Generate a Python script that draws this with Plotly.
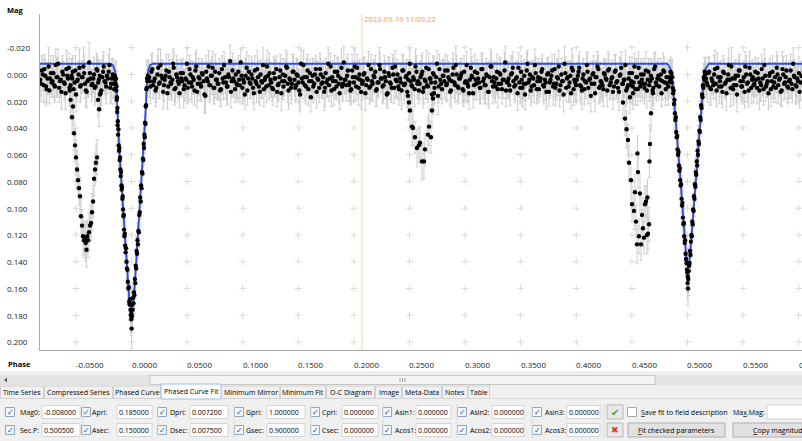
import plotly.graph_objects as go

# ---------------------------------------------------------------- data
PHASE_UNIT = 1e-4   # phases below are stored in units of 0.0001
MAG_UNIT = 1e-3     # magnitudes and errors in millimag

# out-of-eclipse measurements, first run
base_phase = [
    -821, -807, -790, -776, -763, -746, -733, -718, -702, -689, -674, -660, -643, -630, -614, -601, -586, -571, -557, -540,
    -528, -512, -499, -484, -468, -455, -440, -425, -411, -396, -381, -367, -352, -337, -323, -307, -294, -279, -263, -250,
    -235, -221, -205, -191, -177, -163,
    158, 171, 187, 202, 216, 233, 247, 261, 278, 292, 307, 323, 336, 351, 367, 380, 396, 411, 425, 441,
    455, 470, 486, 499, 515, 530, 544, 560, 575, 589, 604, 619, 633, 649, 664, 678, 694, 708, 723, 738,
    752, 768, 782, 797, 813, 826, 842, 857, 871, 887, 901, 916, 931, 945, 961, 975, 990, 1005, 1019, 1035,
    1049, 1064, 1080, 1093, 1109, 1124, 1138, 1154, 1168, 1183, 1198, 1212, 1228, 1242, 1257, 1273, 1286, 1302, 1316, 1331,
    1347, 1360, 1376, 1391, 1405, 1421, 1435, 1450, 1466, 1479, 1495, 1509, 1524, 1540, 1553, 1569, 1584, 1598, 1613, 1628,
    1643, 1658, 1672, 1688, 1702, 1717, 1733, 1746, 1762, 1777, 1791, 1806, 1821, 1836, 1851, 1865, 1881, 1895, 1910, 1925,
    1939, 1955, 1969, 1984, 2000, 2013, 2029, 2043, 2058, 2074, 2087, 2103, 2118, 2132, 2147, 2162, 2177, 2192, 2206, 2222,
    2236, 2251, 2267, 2280, 2296, 2311, 2325, 2340, 2355, 2370, 2385, 2399, 2415, 2429, 2444, 2460, 2473, 2489, 2503, 2518,
    2534, 2547, 2563, 2577, 2592, 2608, 2621, 2637, 2651, 2666, 2682, 2695, 2711, 2725, 2740, 2756, 2769, 2785, 2799, 2814,
    2830, 2843, 2859, 2873, 2888, 2904, 2917, 2933, 2947, 2962, 2978, 2991, 3007, 3021, 3036, 3052, 3065, 3081, 3095, 3110,
    3126, 3139, 3155, 3169, 3184, 3200, 3213, 3229, 3243, 3258, 3274, 3287, 3303, 3317, 3332, 3348, 3361, 3377, 3391, 3406,
    3422, 3435, 3451, 3465, 3480, 3496, 3509, 3525, 3539, 3554, 3570, 3583, 3599, 3613, 3628, 3644, 3657, 3673, 3687, 3702,
    3718, 3731, 3747, 3761, 3776, 3792, 3805, 3821, 3835, 3850, 3866, 3879, 3895, 3909, 3924, 3940, 3953, 3969, 3983, 3998,
    4014, 4027, 4043, 4057, 4072, 4088, 4101, 4117, 4131, 4146, 4162, 4175, 4191, 4205, 4220, 4236, 4249, 4265, 4279, 4294,
    4310, 4323, 4339, 4353, 4368, 4384, 4397, 4413, 4427, 4442, 4458, 4471, 4487, 4501, 4516, 4532, 4545, 4561, 4575, 4590,
    4606, 4619, 4635, 4649, 4664, 4680, 4693, 4709, 4723, 4738, 4754, 4767, 4783, 4797, 4812, 4828, 4841,
    5166, 5181, 5195, 5211, 5224, 5240, 5255, 5269, 5285, 5298, 5314, 5329, 5343, 5359, 5372, 5388, 5403, 5417, 5433, 5446,
    5462, 5477, 5491, 5507, 5520, 5536, 5551, 5565, 5581, 5594, 5610, 5625, 5639, 5655, 5668, 5684, 5699, 5713, 5729, 5742,
    5758, 5773, 5787, 5803, 5816, 5832, 5847, 5861, 5877, 5890, 5906, 5921, 5935, 5951, 5964, 5980, 5995, 6009, 6025,
]
base_mag = [
    4, -3, 8, 1, 11, -6, 3, 6, -1, 9, 2, -8, 5, 13, 0, 7, -4, 3, 10, 1,
    -2, 6, 15, 4, -5, 8, 2, -1, 12, 5, -9, 3, 7, 0, 9, -3, 4, 14, 2, -6,
    6, 1, -2, 10, 3, 7,
    2, 9, -4, 5, 12, 0, 7, -7, 3, 8, 1, 14, -2, 6, 4, -5, 10, 2, 7, -1,
    5, 11, 3, -8, 6, 0, 9, 4, -3, 13, 2, 7, -1, 5, 16, 3, -6, 8, 1, 10,
    -2, 4, 7, 12, -4, 6, 2, 9, 0, -10, 5, 3, 11, 7, -2, 8, 1, 4, 15, -5,
    3, 6, 0, 10, -3, 7, 2, 13, 5, -7, 4, 9, 1, -1, 6, 11, 3, -4, 8, 2,
    14, 0, 5, -6, 7, 3, 10, -2, 4, 8, 1, 12, -8, 6, 2, 9, -3, 5, 17, 1,
    7, -4, 3, 10, 0, 6, 13, -1, 4, 8, -6, 2, 11, 5, -2, 7, 3, 9, -9, 4,
    1, 8, 12, -3, 6, 2, -5, 10, 4, 7, 0, 14, 3, -7, 9, 5, 1, -2, 11, 6,
    -4, 3, 8, 2, 15, -1, 6, 10, 0, -6, 5, 9, 3, 12, -3, 7, 1, 4, -8, 8,
    2, 11, -2, 5, 7, 0, 13, 4, -5, 9, 3, 6, -1, 10, 2, 16, -4, 7, 1, 5,
    8, -3, 4, 12, 0, 6, -7, 9, 3, 1, 11, -2, 5, 7, 14, -5, 2, 8, 4, -1,
    6, 10, -4, 3, 8, 1, 13, -6, 5, 2, 9, -2, 7, 0, 11, 4, -9, 6, 3, 12,
    -1, 5, 8, 2, -5, 10, 4, 7, 15, -3, 6, 0, 9, 3, -7, 11, 2, 5, -2, 8,
    4, 13, -1, 6, 1, 9, -4, 7, 3, 12, 0, 5, -8, 10, 2, 6, 14, -3, 4, 8,
    1, -5, 9, 3, 11, 6, -2, 4, 16, 0, 7, 2, -6, 10, 5, 8, -1, 3, 12, -4,
    6, 2, 9, -3, 5, 13, 0, 7, 4, -7, 10, 3, 8, -1, 6, 11, 2, -5, 9, 4,
    0, 7, 12, -2, 5, 3, 10, -6, 8, 1, 4, 14, -3, 6, 2, 9, 5,
    3, 8, -2, 11, 5, 0, 7, -5, 9, 2, 13, -1, 6, 4, -7, 10, 3, 8, 1, 15,
    -3, 5, 9, 2, -6, 7, 12, 0, 4, 8, -2, 10, 3, 6, -4, 11, 1, 7, 14, -1,
    5, 9, 2, -5, 8, 3, 12, 0, 6, -3, 10, 4, 7, -8, 2, 9, 5, 13, 1,
]
base_err = [
    12, 11, 13, 12, 10, 14, 12, 11, 13, 12, 15, 11, 12, 13, 10, 12, 14, 11, 12, 13,
    12, 10, 13, 12, 14, 11, 12, 13, 12, 11, 15, 12, 10, 13, 12, 11, 14, 12, 13, 11,
    12, 10, 13, 12, 14, 11,
    11, 13, 12, 10, 12, 14, 11, 12, 13, 12, 10, 12, 13, 11, 15, 12, 11, 13, 12, 10,
    12, 14, 11, 12, 13, 10, 12, 11, 13, 12, 14, 12, 11, 10, 13, 12, 12, 11, 14, 12,
    13, 11, 12, 12, 10, 13, 12, 14, 11, 12, 12, 13, 10, 11, 12, 14, 12, 13, 11, 12,
    10, 12, 13, 12, 11, 14, 12, 10, 12, 13, 11, 12, 12, 15, 11, 12, 13, 10, 12, 11,
    13, 12, 11, 12, 14, 10, 12, 13, 12, 11, 12, 14, 11, 12, 10, 13, 12, 12, 11, 13,
    12, 10, 13, 11, 12, 12, 14, 11, 13, 12, 10, 12, 12, 13, 11, 14, 12, 11, 12, 10,
    13, 12, 11, 12, 14, 12, 10, 13, 11, 12, 12, 13, 12, 10, 11, 14, 12, 12, 13, 11,
    12, 11, 14, 12, 10, 12, 13, 11, 12, 12, 13, 10, 12, 14, 11, 12, 12, 13, 11, 12,
    10, 13, 12, 11, 12, 14, 12, 10, 13, 12, 11, 12, 13, 12, 10, 14, 11, 12, 12, 13,
    12, 11, 10, 13, 12, 12, 14, 11, 12, 13, 10, 12, 11, 13, 12, 14, 12, 11, 12, 10,
    13, 12, 12, 11, 14, 10, 12, 13, 11, 12, 12, 13, 10, 12, 11, 14, 12, 12, 13, 11,
    12, 10, 13, 12, 11, 12, 14, 12, 11, 13, 12, 10, 12, 13, 12, 11, 14, 12, 10, 12,
    11, 13, 12, 12, 10, 14, 11, 12, 13, 12, 12, 11, 13, 10, 12, 14, 12, 11, 12, 13,
    10, 12, 13, 11, 12, 12, 14, 11, 12, 10, 13, 12, 11, 12, 14, 12, 10, 13, 12, 11,
    12, 13, 10, 12, 11, 14, 12, 12, 13, 11, 12, 10, 13, 12, 11, 12, 14, 12, 11, 13,
    12, 11, 13, 10, 12, 14, 12, 11, 12, 13, 12, 10, 13, 12, 11, 14, 12,
    12, 13, 11, 12, 10, 14, 12, 11, 13, 12, 12, 10, 13, 11, 12, 14, 12, 11, 12, 13,
    10, 12, 13, 12, 11, 14, 12, 10, 12, 13, 11, 12, 12, 14, 11, 12, 13, 10, 12, 11,
    13, 12, 11, 12, 14, 10, 12, 13, 12, 11, 12, 14, 11, 12, 10, 13, 12, 12, 11,
]

# out-of-eclipse measurements, second run
base2_phase = [
    -814, -799, -783, -769, -755, -739, -725, -710, -695, -681, -666, -651, -636, -622, -607, -593, -578, -563, -548, -534,
    -520, -505, -491, -476, -461, -447, -432, -418, -403, -388, -374, -359, -344, -330, -315, -300, -286, -271, -256, -242,
    -228, -213, -198, -184, -170, -156,
    165, 179, 194, 209, 223, 240, 254, 268, 285, 299, 314, 330, 343, 358, 374, 387, 403, 418, 432, 448,
    462, 477, 493, 506, 522, 537, 551, 567, 582, 596, 611, 626, 640, 656, 671, 685, 701, 715, 730, 745,
    759, 775, 789, 804, 820, 833, 849, 864, 878, 894, 908, 923, 938, 952, 968, 982, 997, 1012, 1026, 1042,
    1056, 1071, 1087, 1100, 1116, 1131, 1145, 1161, 1175, 1190, 1205, 1219, 1235, 1249, 1264, 1280, 1293, 1309, 1323, 1338,
    1354, 1367, 1383, 1398, 1412, 1428, 1442, 1457, 1473, 1486, 1502, 1516, 1531, 1547, 1560, 1576, 1591, 1605, 1620, 1635,
    1650, 1665, 1679, 1695, 1709, 1724, 1740, 1753, 1769, 1784, 1798, 1813, 1828, 1843, 1858, 1872, 1888, 1902, 1917, 1932,
    1946, 1962, 1976, 1991, 2007, 2020, 2036, 2050, 2065, 2081, 2094, 2110, 2125, 2139, 2154, 2169, 2184, 2199, 2213, 2229,
    2243, 2258, 2274, 2287, 2303, 2318, 2332, 2347, 2362, 2377, 2392, 2406, 2422, 2436, 2451, 2467, 2480, 2496, 2510, 2525,
    2541, 2554, 2570, 2584, 2599, 2615, 2628, 2644, 2658, 2673, 2689, 2702, 2718, 2732, 2747, 2763, 2776, 2792, 2806, 2821,
    2837, 2850, 2866, 2880, 2895, 2911, 2924, 2940, 2954, 2969, 2985, 2998, 3014, 3028, 3043, 3059, 3072, 3088, 3102, 3117,
    3133, 3146, 3162, 3176, 3191, 3207, 3220, 3236, 3250, 3265, 3281, 3294, 3310, 3324, 3339, 3355, 3368, 3384, 3398, 3413,
    3429, 3442, 3458, 3472, 3487, 3503, 3516, 3532, 3546, 3561, 3577, 3590, 3606, 3620, 3635, 3651, 3664, 3680, 3694, 3709,
    3725, 3738, 3754, 3768, 3783, 3799, 3812, 3828, 3842, 3857, 3873, 3886, 3902, 3916, 3931, 3947, 3960, 3976, 3990, 4005,
    4021, 4034, 4050, 4064, 4079, 4095, 4108, 4124, 4138, 4153, 4169, 4182, 4198, 4212, 4227, 4243, 4256, 4272, 4286, 4301,
    4317, 4330, 4346, 4360, 4375, 4391, 4404, 4420, 4434, 4449, 4465, 4478, 4494, 4508, 4523, 4539, 4552, 4568, 4582, 4597,
    4613, 4626, 4642, 4656, 4671, 4687, 4700, 4716, 4730, 4745, 4761, 4774, 4790, 4804, 4819, 4835,
    5173, 5188, 5203, 5217, 5232, 5247, 5262, 5277, 5292, 5306, 5321, 5336, 5351, 5366, 5380, 5395, 5410, 5425, 5440, 5454,
    5469, 5484, 5499, 5514, 5528, 5543, 5558, 5573, 5588, 5602, 5617, 5632, 5647, 5662, 5676, 5691, 5706, 5721, 5736, 5750,
    5765, 5780, 5795, 5810, 5824, 5839, 5854, 5869, 5884, 5898, 5913, 5928, 5943, 5958, 5972, 5987, 6002, 6017,
]
base2_mag = [
    7, 0, -4, 9, 3, 12, -1, 5, 8, -7, 2, 10, 4, -2, 6, 14, 1, -5, 8, 3,
    11, -3, 5, 0, 9, 2, -6, 7, 13, 4, -1, 8, 3, 10, -4, 6, 1, 12, -2, 5,
    9, 3, -7, 7, 0, 11,
    5, -2, 8, 3, 10, -5, 6, 1, 13, 4, -3, 9, 2, 7, -8, 11, 0, 5, 14, 3,
    -1, 8, 4, 10, -4, 6, 2, 12, -6, 7, 3, 9, 0, 15, -2, 5, 8, 1, -5, 10,
    4, 7, -1, 11, 3, -7, 6, 9, 2, 13, -3, 5, 0, 8, 4, -9, 10, 6, 1, 12,
    -2, 7, 3, 14, 5, -4, 9, 0, 6, 11, 2, -6, 8, 4, 10, -1, 3, 13, 7, -3,
    5, 9, 1, -5, 12, 4, 7, -2, 10, 0, 6, 15, 3, -7, 8, 2, 11, -1, 5, 9,
    0, 13, 4, -4, 7, 2, 10, 6, -8, 3, 12, 5, -2, 9, 1, 14, -5, 7, 4, 8,
    -3, 6, 11, 2, -6, 9, 3, 0, 13, 5, -1, 8, 4, 10, -4, 7, 2, 12, 6, -7,
    3, 9, -2, 5, 14, 1, 7, -5, 10, 4, 0, 11, 6, -3, 8, 2, 13, -1, 5, 9,
    4, -6, 7, 12, 2, -2, 10, 5, 8, -4, 3, 15, 0, 6, -8, 9, 4, 11, 1, -3,
    7, 2, 13, 5, -5, 8, 0, 10, 3, -1, 12, 6, -7, 9, 4, 1, 14, -2, 7, 3,
    10, -4, 5, 8, 0, 13, 2, -6, 9, 6, 3, 11, -1, 7, 4, -3, 12, 5, 8, 0,
    -5, 9, 3, 14, 6, -2, 10, 1, 7, -8, 4, 12, 2, 8, -1, 5, 11, 3, -4, 9,
    6, 0, 13, 4, -3, 7, 10, 2, -6, 8, 5, 15, -1, 3, 9, 1, -5, 11, 6, 4,
    -2, 8, 12, 0, 5, -7, 10, 3, 7, -1, 14, 2, -4, 9, 6, 11, 0, 4, -3, 8,
    3, 13, -2, 6, 10, 1, -5, 7, 4, 12, 8, -1, 5, 9, -6, 2, 11, 6, 0, 7,
    10, -3, 4, 8, 1, 12, -4, 6, 3, 9, 0, 5, -2, 11, 7, 2,
    6, -1, 10, 3, 8, -4, 12, 2, 5, 9, -2, 7, 14, 0, 4, -6, 11, 3, 8, 1,
    -3, 9, 5, 13, 0, 6, -5, 10, 2, 7, 4, -1, 12, 8, 3, -7, 9, 5, 1, 11,
    -2, 6, 10, 0, 4, 13, -4, 7, 2, 9, 5, -3, 11, 1, 8, 3, -1, 6,
]
base2_err = [
    13, 12, 11, 14, 12, 10, 13, 12, 11, 12, 14, 11, 13, 12, 10, 12, 13, 11, 12, 14,
    12, 11, 13, 10, 12, 12, 14, 11, 12, 13, 10, 12, 11, 13, 12, 14, 12, 11, 12, 10,
    13, 11, 12, 14, 12, 11,
    12, 13, 10, 12, 11, 14, 12, 12, 13, 11, 12, 10, 13, 12, 11, 12, 14, 12, 11, 13,
    11, 12, 14, 12, 10, 13, 12, 11, 12, 13, 12, 11, 10, 14, 12, 12, 13, 11, 12, 12,
    14, 12, 11, 13, 12, 10, 12, 13, 11, 12, 13, 12, 11, 12, 14, 10, 12, 12, 13, 11,
    12, 11, 13, 12, 10, 14, 12, 11, 12, 13, 12, 12, 11, 13, 10, 12, 14, 11, 12, 12,
    13, 10, 12, 11, 14, 12, 12, 13, 11, 12, 10, 13, 12, 11, 12, 14, 12, 10, 13, 12,
    11, 12, 13, 12, 10, 12, 14, 11, 12, 13, 12, 11, 12, 10, 13, 12, 14, 12, 11, 12,
    12, 14, 11, 12, 13, 10, 12, 11, 13, 12, 12, 10, 14, 12, 11, 13, 12, 12, 10, 13,
    10, 12, 12, 13, 11, 14, 12, 10, 12, 13, 11, 12, 13, 12, 14, 11, 12, 10, 12, 13,
    12, 13, 11, 10, 12, 14, 12, 13, 11, 12, 12, 11, 13, 12, 10, 12, 14, 11, 12, 12,
    13, 12, 10, 12, 11, 13, 14, 12, 12, 11, 12, 13, 10, 12, 12, 14, 11, 13, 12, 10,
    11, 12, 13, 14, 12, 10, 12, 11, 13, 12, 12, 14, 12, 11, 10, 13, 12, 12, 11, 14,
    12, 10, 12, 13, 11, 12, 14, 12, 13, 10, 12, 11, 12, 13, 12, 14, 10, 12, 11, 13,
    13, 12, 11, 12, 12, 10, 13, 14, 12, 11, 12, 13, 12, 10, 12, 11, 14, 12, 13, 12,
    12, 11, 14, 12, 13, 10, 12, 12, 11, 13, 14, 12, 10, 12, 11, 13, 12, 12, 14, 11,
    10, 13, 12, 12, 11, 14, 12, 10, 13, 12, 11, 12, 12, 13, 10, 14, 12, 11, 12, 13,
    12, 14, 10, 12, 13, 11, 12, 12, 13, 10, 12, 14, 11, 12, 12, 13,
    11, 12, 13, 12, 10, 14, 12, 11, 12, 13, 12, 10, 13, 12, 11, 14, 12, 12, 13, 11,
    12, 10, 13, 12, 14, 11, 12, 12, 13, 10, 12, 11, 14, 12, 13, 12, 11, 12, 10, 13,
    12, 12, 11, 14, 12, 10, 13, 12, 11, 12, 13, 12, 10, 12, 14, 11, 12, 13,
]

# primary minimum (phase 0)
prim_phase = [-149, -146, -143, -140, -137, -135, -133, -131, -129, -127, -125, -123, -121, -118, -115, -112, -109, -106,
              -103, -100, -97, -94, -91, -88, -85, -82, -79, -76, -73, -70, -67, -64, -61, -57, -53, -49, -45, -41, -37,
              -33, -29, -25, -21, -17, -13, -9, -5, -2, 1, 3, 6, 10, 14, 18, 22, 26, 30, 34, 38, 42, 46, 50, 54, 58, 62,
              66, 70, 74, 78, 82, 86, 90, 94, 98, 102, 106, 110, 113, 116, 119, 122, 125, 128, 131, 134, 137, 140, 143,
              147, -1]
prim_mag = [1, 4, 7, 3, 12, 9, 19, 17, 28, 25, 38, 35, 45, 41, 53, 57, 55, 64, 62, 71, 76, 73, 83, 86, 84, 93, 91, 101,
            106, 105, 116, 121, 119, 128, 133, 130, 140, 145, 146, 155, 160, 159, 170, 172, 168, 176, 180, 183, 190, 181,
            172, 176, 167, 171, 163, 165, 153, 156, 143, 145, 132, 134, 124, 127, 117, 118, 105, 103, 92, 95, 83, 85, 73,
            74, 63, 64, 52, 55, 45, 47, 36, 37, 24, 23, 11, 10, 3, 5, 1, 179]
prim_err = [11, 12, 10, 13, 12, 11, 12, 13, 11, 12, 12, 10, 13, 11, 12, 12, 14, 11, 12, 13, 11, 12, 10, 12, 13, 11, 12,
            12, 14, 11, 12, 13, 11, 12, 10, 12, 13, 12, 11, 14, 12, 11, 13, 12, 12, 10, 13, 12, 15, 12, 11, 13, 12, 10,
            12, 14, 11, 12, 13, 12, 11, 12, 13, 10, 12, 11, 14, 12, 12, 13, 11, 12, 10, 12, 13, 11, 12, 12, 14, 11, 12,
            13, 12, 10, 12, 11, 13, 12, 12, 12]

# secondary minimum (phase ~0.5)
sec_phase = [4847, 4851, 4855, 4859, 4863, 4867, 4871, 4875, 4879, 4883, 4887, 4891, 4895, 4899, 4903, 4907, 4911, 4915,
             4919, 4923, 4927, 4931, 4935, 4939, 4943, 4947, 4951, 4955, 4959, 4963, 4967, 4971, 4975, 4979, 4983, 4987,
             4991, 4995, 4999, 5003, 5007, 5011, 5015, 5019, 5023, 5027, 5031, 5035, 5039, 5043, 5047, 5051, 5055, 5059,
             5063, 5067, 5071, 5075, 5079, 5083, 5087, 5091, 5095, 5099, 5103, 5107, 5111, 5115, 5119, 5123, 5127, 5131,
             5135, 5139, 5143, 5147, 5151, 5155, 5159, 5001, 5005, 4997]
sec_mag = [-2, 3, -1, 6, 2, 10, 14, 12, 22, 19, 29, 34, 32, 43, 47, 46, 56, 60, 58, 68, 72, 70, 79, 83, 82, 93, 98, 96,
           107, 112, 111, 121, 126, 124, 134, 138, 141, 146, 148, 151, 153, 147, 143, 141, 132, 135, 125, 120, 121, 110,
           112, 101, 102, 91, 93, 82, 84, 73, 75, 65, 68, 57, 60, 50, 52, 42, 43, 32, 34, 23, 25, 15, 17, 8, 10, 2, 4,
           -2, 0, 156, 160, 141]
sec_err = [11, 12, 10, 12, 13, 11, 12, 12, 10, 13, 12, 11, 12, 13, 11, 12, 10, 12, 13, 11, 12, 12, 11, 13, 12, 10, 12,
           11, 13, 12, 12, 11, 13, 12, 10, 12, 11, 12, 13, 12, 12, 11, 12, 13, 10, 12, 12, 11, 13, 12, 11, 12, 12, 10,
           13, 12, 11, 12, 12, 13, 10, 12, 11, 12, 13, 12, 11, 12, 10, 13, 12, 11, 12, 12, 13, 10, 12, 11, 12, 12, 13, 11]

# extra dips of the blended companion
dip1_phase = [-556, -548, -535, -526, -517, -508, -499, -490, -481, -472, -463, -454, -445, -436, -427, -418, -412,
              -405, -398, -391, -382, -373, -364, -355, -346, -337, -328, -319, -310, -301, -292, -283]
dip1_mag = [12, 19, 32, 24, 44, 53, 62, 71, 79, 85, 91, 106, 113, 121, 124, 122, 126, 131, 121, 124, 118, 113, 111, 103,
            95, 78, 71, 66, 62, 19, 26, 15]
dip1_err = [12, 13, 12, 14, 13, 12, 13, 14, 12, 13, 14, 13, 12, 14, 13, 12, 14, 13, 12, 13, 14, 12, 13, 14, 12, 13, 12,
            14, 13, 12, 13, 12]

dip2_phase = [2486, 2495, 2504, 2522, 2531, 2549, 2567, 2585, 2594, 2612, 2630, 2639, 2666, 2675, 2693, 2702, 2711, 2720]
dip2_mag = [16, 21, 27, 39, 40, 47, 55, 53, 51, 65, 65, 56, 45, 39, 47, 27, 18, 14]
dip2_err = [12, 13, 12, 14, 13, 12, 14, 13, 12, 14, 13, 12, 13, 14, 12, 13, 12, 13]

dip3_phase = [4420, 4438, 4452, 4465, 4474, 4483, 4492, 4501, 4510, 4519, 4528, 4537, 4546, 4550, 4555, 4564, 4573,
              4582, 4591, 4600, 4609, 4618, 4627, 4636, 4640, 4645, 4654, 4658, 4663, 4672, 4690]
dip3_mag = [21, 33, 41, 49, 66, 17, 79, 97, 14, 102, 88, 110, 127, 59, 73, 121, 89, 127, 105, 115, 122, 97, 95, 120,
            92, 119, 112, 65, 52, 29, 14]
dip3_err = [12, 13, 14, 12, 13, 12, 14, 13, 12, 14, 13, 12, 14, 13, 12, 13, 14, 12, 13, 14, 12, 13, 12, 14, 13, 12, 13,
            12, 14, 13, 12]

# fitted light-curve model: half-width in phase vs magnitude for each minimum
MAG0 = -0.008
SEC_P = 0.5005
prim_dphi = [0.0, 0.0022, 0.0035, 0.0048, 0.0063, 0.0077, 0.0093, 0.0108, 0.0121, 0.0128, 0.0136, 0.0150, 0.0167, 0.0190]
prim_curve = [0.1776, 0.166, 0.150, 0.133, 0.119, 0.097, 0.078, 0.059, 0.041, 0.026, 0.010, -0.003, -0.007, -0.008]
sec_dphi = [0.0, 0.0013, 0.0027, 0.0042, 0.0057, 0.0072, 0.0088, 0.0105, 0.0120, 0.0136, 0.0156, 0.0186]
sec_curve = [0.144, 0.139, 0.126, 0.109, 0.091, 0.074, 0.059, 0.041, 0.024, 0.009, -0.004, -0.008]

# axes
x_range = [-0.0823, 0.6030]
y_range = [0.2060, -0.0452]          # magnitudes grow downwards
x_ticks = [-0.05, 0.0, 0.05, 0.10, 0.15, 0.20, 0.25, 0.30, 0.35, 0.40, 0.45, 0.50, 0.55, 0.60]
y_ticks = [-0.02, 0.0, 0.02, 0.04, 0.06, 0.08, 0.10, 0.12, 0.14, 0.16, 0.18, 0.20]
marker_phase = 0.2073
marker_label = "2023-09-16 11:00:22"

# parameter panel
tab_names = ["Time Series", "Compressed Series", "Phased Curve", "Phased Curve Fit", "Minimum Mirror", "Minimum Fit",
             "O-C Diagram", "Image", "Meta-Data", "Notes", "Table"]
row1_labels = ["Mag0:", "Apri:", "Dpri:", "Gpri:", "Cpri:", "Asin1:", "Asin2:", "Asin3:"]
row1_values = ["-0.008000", "0.185000", "0.007200", "1.000000", "0.000000", "0.000000", "0.000000", "0.000000"]
row2_labels = ["Sec.P:", "Asec:", "Dsec:", "Gsec:", "Csec:", "Acos1:", "Acos2:", "Acos3:"]
row2_values = ["0.500500", "0.150000", "0.007500", "0.900000", "0.000000", "0.000000", "0.000000", "0.000000"]

# ---------------------------------------------------------------- geometry helpers (pixels -> paper)
W, H = 802, 441
PL, PR, PT, PB = 40, 802, 14, 350
FONT = "Open Sans"


def xp(px):
    return (px - PL) / (PR - PL)


def yp(py):
    return (PB - py) / (PB - PT)


def phase_paper(p):
    return (p - x_range[0]) / (x_range[1] - x_range[0])


def mag_paper(m):
    return (y_range[0] - m) / (y_range[0] - y_range[1])


shapes = []
annotations = []


def rect(x0, y0, x1, y1, fill, line=None, width=1):
    shapes.append(dict(type="rect", xref="paper", yref="paper", x0=xp(x0), x1=xp(x1), y0=yp(y1), y1=yp(y0),
                       fillcolor=fill, line=dict(color=line or "rgba(0,0,0,0)", width=width if line else 0),
                       layer="above"))


def hline(x0, x1, y, color, width=1):
    shapes.append(dict(type="line", xref="paper", yref="paper", x0=xp(x0), x1=xp(x1), y0=yp(y), y1=yp(y),
                       line=dict(color=color, width=width), layer="above"))


def vline(x, y0, y1, color, width=1):
    shapes.append(dict(type="line", xref="paper", yref="paper", x0=xp(x), x1=xp(x), y0=yp(y0), y1=yp(y1),
                       line=dict(color=color, width=width), layer="above"))


def text(x, y, s, size=7, color="#000000", anchor="left", family=FONT, weight=None, xpaper=None, ypaper=None):
    font = dict(family=family, size=size, color=color)
    if weight:
        font["weight"] = weight
    annotations.append(dict(x=xpaper if xpaper is not None else xp(x), y=ypaper if ypaper is not None else yp(y),
                            xref="paper", yref="paper", text=s, showarrow=False, xanchor=anchor, yanchor="middle",
                            font=font, borderpad=0, borderwidth=0))


# ---------------------------------------------------------------- figure
fig = go.Figure()

# grid crosses at every tick intersection
gx = [t for t in x_ticks for _ in y_ticks]
gy = [s for _ in x_ticks for s in y_ticks]
fig.add_trace(go.Scatter(x=gx, y=gy, mode="markers", hoverinfo="skip",
                         marker=dict(symbol="cross-thin", size=5, color="#dadada",
                                     line=dict(width=1, color="#dadada"))))

groups = [(base_phase, base_mag, base_err), (base2_phase, base2_mag, base2_err),
          (dip1_phase, dip1_mag, dip1_err), (dip2_phase, dip2_mag, dip2_err),
          (dip3_phase, dip3_mag, dip3_err), (prim_phase, prim_mag, prim_err), (sec_phase, sec_mag, sec_err)]
px_all, pm_all, pe_all = [], [], []
for ph, mg, er in groups:
    for a, b, c in zip(ph, mg, er):
        px_all.append(a * PHASE_UNIT)
        pm_all.append(b * MAG_UNIT)
        pe_all.append(c * MAG_UNIT)

# error bars
fig.add_trace(go.Scatter(x=px_all, y=pm_all, mode="markers", hoverinfo="skip",
                         marker=dict(size=1, color="rgba(0,0,0,0)"),
                         error_y=dict(type="data", array=pe_all, visible=True, color="#cdcdcd",
                                      thickness=1, width=1.5)))

# fitted model
fit_x, fit_y = [x_range[0]], [MAG0]
for d, m in zip(reversed(prim_dphi), reversed(prim_curve)):
    fit_x.append(-d)
    fit_y.append(m)
for d, m in zip(prim_dphi[1:], prim_curve[1:]):
    fit_x.append(d)
    fit_y.append(m)
for d, m in zip(reversed(sec_dphi), reversed(sec_curve)):
    fit_x.append(SEC_P - d)
    fit_y.append(m)
for d, m in zip(sec_dphi[1:], sec_curve[1:]):
    fit_x.append(SEC_P + d)
    fit_y.append(m)
fit_x.append(x_range[1])
fit_y.append(MAG0)
fig.add_trace(go.Scatter(x=fit_x, y=fit_y, mode="lines", hoverinfo="skip",
                         line=dict(color="#2b4fe0", width=1.8)))

# measurements
fig.add_trace(go.Scatter(x=px_all, y=pm_all, mode="markers", hoverinfo="skip",
                         marker=dict(size=4.4, color="#000000")))

# time marker
shapes.append(dict(type="line", xref="x", yref="paper", x0=marker_phase, x1=marker_phase, y0=0, y1=1,
                   line=dict(color="#fbcfa3", width=1), layer="below"))
text(0, 19, marker_label, size=7.6, color="#f7b57a", weight=600, xpaper=phase_paper(marker_phase) + 2 / (PR - PL))

# axis titles and tick labels
text(7, 10, "Mag", size=7.5, weight=700)
text(8, 364, "Phase", size=7.5, weight=700)
for t in y_ticks:
    text(7, 0, f"{t:.3f}", size=8, color="#222222", ypaper=mag_paper(t))
for t in x_ticks:
    lab = f"{t:.4f}" if abs(t) > 1e-9 else "0.0000"
    text(0, 364, lab, size=8, color="#222222", xpaper=phase_paper(t))

# ---------------------------------------------------------------- lower control panel
rect(0, 371, 802, 441, "#f0f0f0")
# horizontal scrollbar
rect(0, 375, 802, 385, "#e3e3e3")
rect(150, 375.5, 655, 384.5, "#f4f4f4", "#c6c6c6")
for gxp in (400, 402.5, 405):
    vline(gxp, 378, 382, "#a0a0a0")
shapes.append(dict(type="path", xref="paper", yref="paper", layer="above",
                   path=f"M {xp(4)},{yp(380)} L {xp(7)},{yp(377.5)} L {xp(7)},{yp(382.5)} Z",
                   fillcolor="#606060", line=dict(width=0)))

# tabs
tab_edges = [0, 44, 113, 161, 221, 280, 326, 375, 402, 442, 468, 490]
hline(0, 802, 398.5, "#d9d9d9")
for i, name in enumerate(tab_names):
    x0, x1 = tab_edges[i], tab_edges[i + 1]
    if name == "Phased Curve Fit":
        rect(x0, 384, x1, 399, "#ffffff", "#9dc0e4")
    else:
        rect(x0 + 0.5, 386, x1 - 0.5, 398.5, "#f0f0f0", "#d2d2d2")
    text((x0 + x1) / 2, 392 if name != "Phased Curve Fit" else 391.5, name, size=7, anchor="center")

# parameter rows
cb_x = [10, 86, 162, 239, 315, 387, 462, 537]
lab_x = [20, 92, 170, 246, 322, 395, 470, 545]
box_x = [(42, 80), (117, 152), (190, 228), (267, 305), (342, 378), (416, 451), (492, 524), (567, 600)]
for row_y, labels, values in ((412, row1_labels, row1_values), (430, row2_labels, row2_values)):
    for i in range(8):
        rect(cb_x[i] - 4.5, row_y - 4.5, cb_x[i] + 4.5, row_y + 4.5, "#f3f7fb", "#8ea6c2")
        text(cb_x[i] - 3.5, row_y, "\u2713", size=8, color="#24508f", family="DejaVu Sans")
        text(lab_x[i], row_y, labels[i], size=7)
        x0, x1 = box_x[i]
        rect(x0, row_y - 6.5, x1, row_y + 6.5, "#ffffff", "#d4d4d4")
        text(x0 + 2, row_y, values[i], size=7)

# separators between parameter groups
for sx in (83, 158, 234, 311, 383, 457, 532, 604):
    vline(sx, 404, 438, "#dcdcdc")

# accept / reject buttons
rect(607, 405, 623, 419, "#e8e8e8", "#b9b9b9")
text(615, 412, "\u2714", size=10, color="#3aa53a", anchor="center", family="DejaVu Sans")
rect(607, 423, 623, 437, "#e8e8e8", "#b9b9b9")
text(615, 430, "\u2716", size=9, color="#d83a2e", anchor="center", family="DejaVu Sans")

# save option and max magnitude
rect(627.5, 407.5, 636.5, 416.5, "#ffffff", "#a8a8a8")
text(641, 412, "<u>S</u>ave fit to field description", size=7)
text(733, 412, "Ma<u>x</u>.Mag:", size=7)
rect(767, 405, 806, 419, "#ffffff", "#d4d4d4")

# action buttons
rect(628, 423, 725, 437, "#e1e1e1", "#adadad")
text(676.5, 430, "<u>F</u>it checked parameters", size=7, anchor="center")
rect(733, 423, 850, 437, "#e1e1e1", "#adadad")
text(753, 430, "<u>C</u>opy magnitude", size=7)

fig.update_layout(
    width=W, height=H,
    margin=dict(l=PL, r=W - PR, t=PT, b=H - PB, pad=0),
    paper_bgcolor="#ffffff", plot_bgcolor="#ffffff",
    showlegend=False,
    xaxis=dict(range=x_range, showgrid=False, zeroline=False, showticklabels=False, ticks="",
               showline=True, linecolor="#a8a8a8", linewidth=1, fixedrange=True),
    yaxis=dict(range=y_range, showgrid=False, zeroline=False, showticklabels=False, ticks="",
               showline=True, linecolor="#a8a8a8", linewidth=1, fixedrange=True),
    shapes=shapes,
    annotations=annotations,
)

fig.write_html("out.html")
